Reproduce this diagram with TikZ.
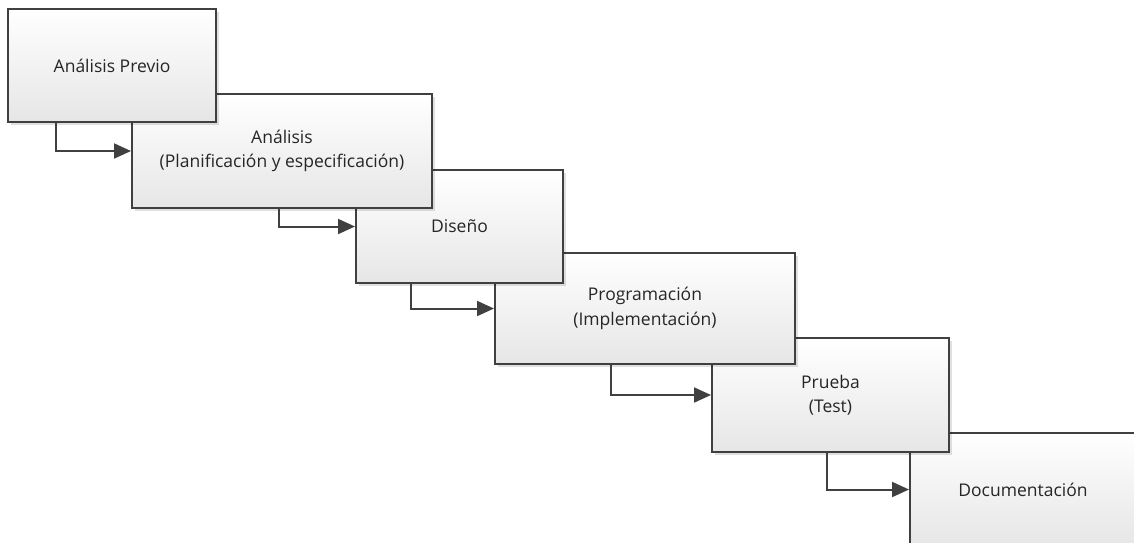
\documentclass[tikz,border=0pt]{standalone}
\usepackage{fontspec}
\setmainfont{Open Sans}
\usetikzlibrary{arrows.meta,shadows}
\definecolor{edge}{HTML}{404040}
\definecolor{ink}{HTML}{262626}
\definecolor{shadeend}{HTML}{E6E6E6}
\begin{document}
\begin{tikzpicture}[x=1pt,y=-1pt,
  stage/.style={draw=edge, line width=2pt, top color=white, bottom color=shadeend,
    inner sep=0pt, align=center, text=ink, font=\fontsize{17.5}{24.5}\selectfont,
    drop shadow={shadow xshift=3pt, shadow yshift=-3pt, fill=black, opacity=0.12}},
  flow/.style={draw=edge, line width=2pt, -{Triangle[length=17pt,width=15pt]}}]
\useasboundingbox (0,0) rectangle (1134,542);
\clip (0,0) rectangle (1134,542);

% stages, drawn from last to first so each earlier box lies on top
\node[stage, minimum width=226pt, minimum height=113pt] (b6) at (1023,489.5) {Documentación};
\node[stage, minimum width=237pt, minimum height=114pt] (b5) at (830.5,395) {Prueba\\(Test)};
\node[stage, minimum width=300pt, minimum height=111pt] (b4) at (645,308.5) {Programación\\(Implementación)};
\node[stage, minimum width=207pt, minimum height=113pt] (b3) at (459.5,226.5) {Diseño};
\node[stage, minimum width=300pt, minimum height=114pt] (b2) at (282,151) {Análisis\\(Planificación y especificación)};
\node[stage, minimum width=208pt, minimum height=113pt] (b1) at (112,65.5) {Análisis Previo};

% elbow connectors between consecutive stages
\draw[flow] ([xshift=49pt]b1.south west) |- (b2.west);
\draw[flow] ([xshift=148pt]b2.south west) |- (b3.west);
\draw[flow] ([xshift=56pt]b3.south west) |- (b4.west);
\draw[flow] ([xshift=117pt]b4.south west) |- (b5.west);
\draw[flow] ([xshift=116pt]b5.south west) |- (b6.west);
\end{tikzpicture}
\end{document}
